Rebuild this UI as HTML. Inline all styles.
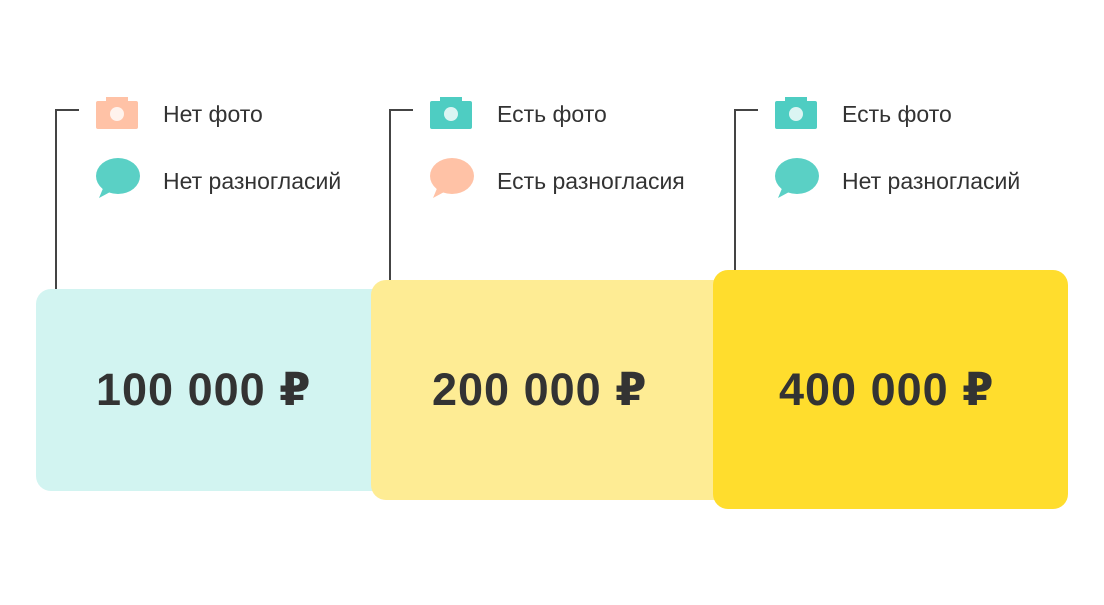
<!DOCTYPE html>
<html><head><meta charset="utf-8"><style>
body{margin:0;width:1104px;height:605px;background:#fff;position:relative;overflow:hidden;font-family:"Liberation Sans","DejaVu Sans",sans-serif;color:#333}
.b{position:absolute;border-radius:15px}
.n{position:absolute;font-weight:bold;font-size:45px;letter-spacing:1px;line-height:1;color:#333;white-space:nowrap}
.l{position:absolute;background:#444}
.t{position:absolute;font-size:23px;color:#333;line-height:1;white-space:nowrap}
svg{position:absolute}
</style></head><body>
<div class="b" style="left:36px;top:289px;width:360px;height:202px;background:#d2f4f1;"></div>
<div class="b" style="left:371px;top:280px;width:360px;height:220px;background:#feec94;"></div>
<div class="b" style="left:713px;top:270px;width:355px;height:239px;background:#ffdd2d;"></div>
<div class="n" style="left:96px;top:367px">100 000 ₽</div>
<div class="n" style="left:432px;top:367px">200 000 ₽</div>
<div class="n" style="left:779px;top:367px">400 000 ₽</div>

<div class="l" style="left:55px;top:109px;width:2px;height:180px"></div>
<div class="l" style="left:55px;top:109px;width:24px;height:2px"></div>
<div class="l" style="left:389px;top:109px;width:2px;height:171px"></div>
<div class="l" style="left:389px;top:109px;width:24px;height:2px"></div>
<div class="l" style="left:734px;top:109px;width:2px;height:161px"></div>
<div class="l" style="left:734px;top:109px;width:24px;height:2px"></div>

<svg width="0" height="0"><defs>
<symbol id="cam" viewBox="0 0 42 34"><path d="M10 2h22v4h8a2 2 0 0 1 2 2v24a2 2 0 0 1-2 2H2a2 2 0 0 1-2-2V8a2 2 0 0 1 2-2h8z"/><circle cx="21" cy="19" r="7" fill="#fff" opacity=".8"/></symbol>
<symbol id="bub" viewBox="0 0 44 40"><ellipse cx="22" cy="18" rx="22" ry="18"/><path d="M3 40 L8 28 L16 33 Z"/></symbol>
</defs></svg>

<svg style="left:96px;top:95px" width="42" height="34" fill="#ffc2a6"><use href="#cam"/></svg>
<svg style="left:96px;top:158px" width="44" height="40" fill="#5ad0c5"><use href="#bub"/></svg>
<div class="t" style="left:163px;top:103px">Нет фото</div>
<div class="t" style="left:163px;top:170px">Нет разногласий</div>

<svg style="left:430px;top:95px" width="42" height="34" fill="#4ecdc2"><use href="#cam"/></svg>
<svg style="left:430px;top:158px" width="44" height="40" fill="#ffc2a6"><use href="#bub"/></svg>
<div class="t" style="left:497px;top:103px">Есть фото</div>
<div class="t" style="left:497px;top:170px">Есть разногласия</div>

<svg style="left:775px;top:95px" width="42" height="34" fill="#4ecdc2"><use href="#cam"/></svg>
<svg style="left:775px;top:158px" width="44" height="40" fill="#5ad0c5"><use href="#bub"/></svg>
<div class="t" style="left:842px;top:103px">Есть фото</div>
<div class="t" style="left:842px;top:170px">Нет разногласий</div>
</body></html>
